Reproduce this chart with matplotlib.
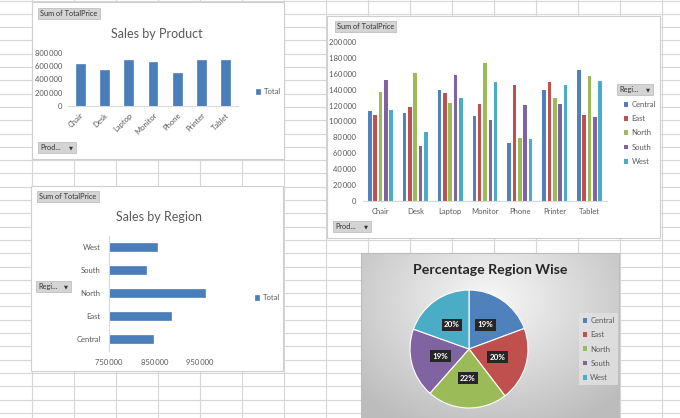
import numpy as np
import matplotlib
matplotlib.use('Agg')
import matplotlib.pyplot as plt
from matplotlib.patches import Rectangle, Patch
from matplotlib.ticker import FuncFormatter

plt.rcParams['font.family'] = ['Lato', 'DejaVu Sans']

products = ['Chair', 'Desk', 'Laptop', 'Monitor', 'Phone', 'Printer', 'Tablet']
regions = ['Central', 'East', 'North', 'South', 'West']

# Sum of TotalPrice per region, in the product order above
central = [112800, 110700, 140000, 106500, 72500, 140000, 165200]
east = [107700, 118700, 135800, 122000, 145500, 149700, 107700]
north = [137100, 161400, 123300, 173200, 79700, 129100, 157200]
south = [151800, 69200, 158500, 101900, 121200, 122400, 105700]
west = [114900, 87200, 130000, 149700, 78400, 145500, 150500]

region_colors = ['#4F81BD', '#C0504D', '#9BBB59', '#8064A2', '#4BACC6']
bar_blue = '#4A7EBB'
text_grey = '#595959'

by_region = np.array([central, east, north, south, west])
product_totals = by_region.sum(axis=0)
region_totals = by_region.sum(axis=1)

W, H = 680, 418
fig = plt.figure(figsize=(W / 100, H / 100), dpi=100)


# axes placed by pixel box (top-left origin)
def px_axes(x0, y0, x1, y1):
    return fig.add_axes([x0 / W, 1 - y1 / H, (x1 - x0) / W, (y1 - y0) / H])


def thousands(v, pos):
    return f'{int(v):,}'.replace(',', '\u2009')


# spreadsheet background
bg = fig.add_axes([0, 0, 1, 1])
bg.set_xlim(0, W)
bg.set_ylim(H, 0)
bg.axis('off')
for x in np.arange(-10, W, 42):
    bg.axvline(x, color='#d6d6d6', lw=0.8)
for y in np.arange(0.5, H, 13.3):
    bg.axhline(y, color='#d6d6d6', lw=0.8)

# chart boxes
for (x0, y0, x1, y1) in [(32, 2, 284, 159), (327, 16, 660, 238), (31, 186, 283, 371)]:
    bg.add_patch(Rectangle((x0, y0), x1 - x0, y1 - y0, facecolor='white',
                           edgecolor='#cfcfcf', lw=0.8, zorder=3))

# pie chart box with grey radial gradient
gx, gy = np.meshgrid(np.linspace(361, 619, 260), np.linspace(253, 420, 170))
d = np.sqrt(((gx - 490) / 175) ** 2 + ((gy - 300) / 140) ** 2)
shade = 0.97 - 0.23 * np.clip(d, 0, 1)
bg.imshow(np.dstack([shade, shade, shade]), extent=(361, 619, 420, 253),
          origin='upper', aspect='auto', zorder=3)
bg.add_patch(Rectangle((361, 253), 258, 170, facecolor='none',
                       edgecolor='#bdbdbd', lw=0.8, zorder=4))
bg.set_xlim(0, W)
bg.set_ylim(H, 0)


def button(x0, y0, x1, y1, label, arrow=False):
    bg.add_patch(Rectangle((x0, y0), x1 - x0, y1 - y0, facecolor='#d4d4d4',
                           edgecolor='#b8b8b8', lw=0.5, zorder=5))
    bg.text(x0 + 2, (y0 + y1) / 2, label, fontsize=5.3, color='#333333',
            va='center', ha='left', zorder=6)
    if arrow:
        bg.text(x1 - 5, (y0 + y1) / 2, '\u25bc', fontsize=3.8, color='#333333',
                va='center', ha='center', zorder=6)


button(38, 8, 100, 19, 'Sum of TotalPrice')
button(38, 142, 76, 153, 'Prod...', arrow=True)
button(335, 21, 396, 32, 'Sum of TotalPrice')
button(333, 221, 371, 232, 'Prod...', arrow=True)
button(617, 84, 653, 95, 'Regi...', arrow=True)
button(37, 191, 99, 202, 'Sum of TotalPrice')
button(36, 281, 71, 292, 'Regi...', arrow=True)

bg.text(157, 34, 'Sales by Product', ha='center', va='center', fontsize=9,
        color=text_grey, zorder=6)
bg.text(159, 217, 'Sales by Region', ha='center', va='center', fontsize=9,
        color=text_grey, zorder=6)
bg.text(490, 270, 'Percentage Region Wise', ha='center', va='center',
        fontsize=10.2, fontweight='bold', color='#262626', zorder=6)


def style(ax):
    ax.set_facecolor('none')
    for s in ax.spines.values():
        s.set_visible(False)
    ax.tick_params(length=0, labelsize=5.5, colors=text_grey)


legend_kw = dict(frameon=False, fontsize=5.5, handlelength=0.6, handleheight=0.6,
                 handletextpad=0.4, labelcolor=text_grey)

# Sales by Product
ax1 = px_axes(68, 52.7, 238, 106)
style(ax1)
ax1.bar(range(len(products)), product_totals, width=0.36, color=bar_blue,
        edgecolor='#3d6ea8', lw=0.4, label='Total')
ax1.set_xlim(-0.5, len(products) - 0.5)
ax1.set_ylim(0, 800000)
ax1.set_yticks(np.arange(0, 800001, 200000))
ax1.yaxis.set_major_formatter(FuncFormatter(thousands))
ax1.set_xticks(range(len(products)))
ax1.set_xticklabels(products, rotation=45, ha='right', rotation_mode='anchor')
ax1.spines['bottom'].set_visible(True)
ax1.spines['bottom'].set_color('#d9d9d9')
ax1.tick_params(axis='x', pad=4)
ax1.tick_params(axis='y', pad=4)
ax1.legend(loc='center left', bbox_to_anchor=(249, 92), bbox_transform=bg.transData,
           **legend_kw)

# Sum of TotalPrice by product and region
ax2 = px_axes(363, 42, 607, 201)
style(ax2)
xs = np.arange(len(products))
for i, (name, vals) in enumerate(zip(regions, by_region)):
    ax2.bar(xs + (i - 2) * 0.153, vals, width=0.105, color=region_colors[i],
            label=name)
ax2.set_xlim(-0.5, len(products) - 0.5)
ax2.set_ylim(0, 200000)
ax2.set_yticks(np.arange(0, 200001, 20000))
ax2.yaxis.set_major_formatter(FuncFormatter(thousands))
ax2.set_xticks(xs)
ax2.set_xticklabels(products)
ax2.spines['bottom'].set_visible(True)
ax2.spines['bottom'].set_color('#d9d9d9')
ax2.tick_params(axis='x', pad=5)
ax2.tick_params(axis='y', pad=5)
ax2.legend(loc='upper left', bbox_to_anchor=(617, 94), bbox_transform=bg.transData,
           labelspacing=0.95, **legend_kw)

# Sales by Region
ax3 = px_axes(109, 235.5, 222.75, 350.5)
style(ax3)
ax3.barh(range(len(regions)), region_totals, height=0.35, color=bar_blue,
         edgecolor='#3d6ea8', lw=0.4, label='Total')
ax3.set_xlim(750000, 1000000)
ax3.set_ylim(-0.5, len(regions) - 0.5)
ax3.set_xticks([750000, 850000, 950000])
ax3.xaxis.set_major_formatter(FuncFormatter(thousands))
ax3.set_yticks(range(len(regions)))
ax3.set_yticklabels(regions)
ax3.spines['left'].set_visible(True)
ax3.spines['left'].set_color('#d9d9d9')
ax3.tick_params(axis='x', pad=6)
ax3.tick_params(axis='y', pad=6)
ax3.legend(loc='center left', bbox_to_anchor=(248, 298), bbox_transform=bg.transData,
           **legend_kw)

# Percentage Region Wise
ax4 = px_axes(410, 290, 528, 408)
wedges, _, pcts = ax4.pie(region_totals, colors=region_colors, startangle=90,
                          counterclock=False, autopct='%.0f%%', pctdistance=0.5,
                          wedgeprops=dict(edgecolor='white', lw=0.8),
                          textprops=dict(color='white', fontsize=5.8,
                                         fontweight='bold'))
for t in pcts:
    t.set_bbox(dict(facecolor='#262626', edgecolor='none', pad=1.8))
ax4.set_xlim(-1, 1)
ax4.set_ylim(-1, 1)
handles = [Patch(facecolor=c, edgecolor='none') for c in region_colors]
leg = ax4.legend(handles, regions, loc='center left', bbox_to_anchor=(575, 349),
                 bbox_transform=bg.transData, fontsize=5.5, handlelength=0.6,
                 handleheight=0.6, handletextpad=0.4, labelspacing=0.95,
                 labelcolor=text_grey, borderpad=0.5, frameon=True, fancybox=False)
leg.get_frame().set_facecolor('#e2e2e2')
leg.get_frame().set_edgecolor('none')

fig.savefig('out.png', dpi=100)
